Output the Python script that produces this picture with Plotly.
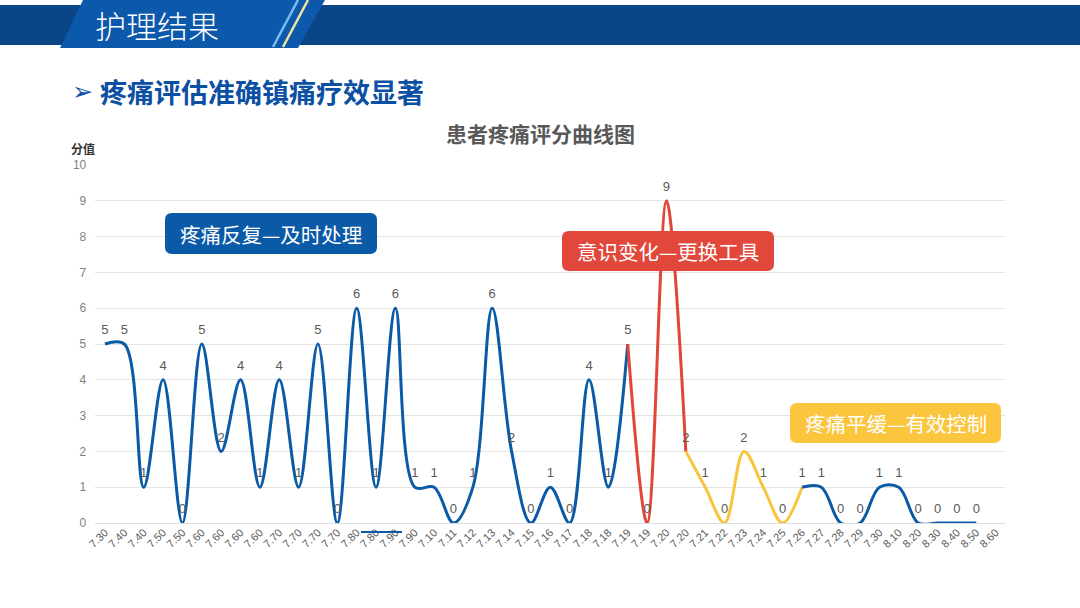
import plotly.graph_objects as go

W, H = 1080, 608

categories = ["7.30", "7.40", "7.40", "7.50", "7.50", "7.60", "7.60", "7.60", "7.60",
              "7.70", "7.70", "7.70", "7.70", "7.80", "7.80", "7.90", "7.90",
              "7.10", "7.11", "7.12", "7.13", "7.14", "7.15", "7.16", "7.17",
              "7.18", "7.18", "7.19", "7.19", "7.20", "7.20", "7.21", "7.22",
              "7.23", "7.24", "7.25", "7.26", "7.27", "7.28", "7.29", "7.30",
              "8.10", "8.20", "8.30", "8.40", "8.50", "8.60"]
scores = [5, 5, 1, 4, 0, 5, 2, 4, 1, 4, 1, 5, 0, 6, 1, 6, 1, 1, 0, 1, 6, 2, 0, 1, 0,
          4, 1, 5, 0, 9, 2, 1, 0, 2, 1, 0, 1, 1, 0, 0, 1, 1, 0, 0, 0, 0, None]

# colour segments (start index, end index inclusive, colour)
segments = [(0, 27, "#0B5AA6"), (27, 30, "#E2463A"), (30, 36, "#F9C53C"), (36, 45, "#0B5AA6")]

y_ticks = list(range(0, 11))

# positions use unique x indices so repeated labels stay separate
xidx = list(range(len(categories)))


def px(x):
    return x / W


def py(y):
    return 1 - y / H


fig = go.Figure()
for s, e, col in segments:
    fig.add_trace(go.Scatter(
        x=xidx[s:e + 1], y=scores[s:e + 1], mode="lines",
        line=dict(color=col, width=3, shape="spline", smoothing=1.0),
        hoverinfo="skip", showlegend=False, cliponaxis=True))

fig.add_trace(go.Scatter(
    x=xidx[:len(scores)], y=scores, mode="markers+text",
    marker=dict(size=9, opacity=0),
    text=[str(v) if v is not None else "" for v in scores],
    textposition="top center",
    textfont=dict(family="Liberation Sans, Arial, sans-serif", size=13, color="#595959"),
    hoverinfo="skip", showlegend=False, cliponaxis=False))

x0p, x1p = 95.3, 1005.3
y0p, y1p = 523, 165

shapes = []
# header
shapes.append(dict(type="rect", xref="paper", yref="paper", x0=0, x1=1,
                   y0=py(45), y1=py(5), fillcolor="#0A4587", line=dict(width=0), layer="below"))


def poly(pts):
    return "M " + " L ".join(f"{px(a):.5f},{py(b):.5f}" for a, b in pts) + " Z"


shapes.append(dict(type="path", xref="paper", yref="paper",
                   path=poly([(60, 48), (83, 0), (325, 0), (298, 48)]),
                   fillcolor="#0C58AB", line=dict(width=0), layer="below"))
shapes.append(dict(type="line", xref="paper", yref="paper",
                   x0=px(298), y0=py(0), x1=px(273), y1=py(47),
                   line=dict(color="#78BDF0", width=2.5)))
shapes.append(dict(type="line", xref="paper", yref="paper",
                   x0=px(308), y0=py(0), x1=px(283), y1=py(47),
                   line=dict(color="#F2E3A0", width=2.5)))
# stray line under axis
shapes.append(dict(type="line", xref="paper", yref="paper",
                   x0=px(361), y0=py(532), x1=px(402), y1=py(532),
                   line=dict(color="#0B5AA6", width=2)))


def rrect(x0, y0, x1, y1, r):
    def P(a, b):
        return f"{px(a):.5f},{py(b):.5f}"
    return (f"M {P(x0 + r, y0)} L {P(x1 - r, y0)} Q {P(x1, y0)} {P(x1, y0 + r)} "
            f"L {P(x1, y1 - r)} Q {P(x1, y1)} {P(x1 - r, y1)} L {P(x0 + r, y1)} "
            f"Q {P(x0, y1)} {P(x0, y1 - r)} L {P(x0, y0 + r)} Q {P(x0, y0)} {P(x0 + r, y0)} Z")


boxes = [
    (165, 213, 377, 254, "#0B5AA8", "疼痛反复—及时处理"),
    (562, 231, 774, 271, "#E2473B", "意识变化—更换工具"),
    (790, 403, 1001, 443, "#FBC53D", "疼痛平缓—有效控制"),
]
annotations = []
for bx0, by0, bx1, by1, col, txt in boxes:
    shapes.append(dict(type="path", xref="paper", yref="paper", path=rrect(bx0, by0, bx1, by1, 7),
                       fillcolor=col, line=dict(width=0), layer="above"))
    annotations.append(dict(x=px((bx0 + bx1) / 2), y=py((by0 + by1) / 2), xref="paper", yref="paper",
                            text=txt, showarrow=False, xanchor="center", yanchor="middle",
                            font=dict(family="Noto Sans CJK SC", size=20.5, color="white")))

annotations += [
    dict(x=px(93), y=py(24), xref="paper", yref="paper", text="护理结果", showarrow=False,
         xanchor="left", yanchor="middle",
         font=dict(family="Noto Sans CJK SC", size=31, color="white", weight=300)),
    dict(x=px(70), y=py(92), xref="paper", yref="paper", text="➢", showarrow=False,
         xanchor="left", yanchor="middle",
         font=dict(family="DejaVu Sans", size=25, color="#0B50A3")),
    dict(x=px(98), y=py(91), xref="paper", yref="paper", text="<b>疼痛评估准确镇痛疗效显著</b>",
         showarrow=False, xanchor="left", yanchor="middle",
         font=dict(family="Noto Sans CJK SC", size=27, color="#0B50A3")),
    dict(x=px(540), y=py(133), xref="paper", yref="paper", text="<b>患者疼痛评分曲线图</b>",
         showarrow=False, xanchor="center", yanchor="middle",
         font=dict(family="Noto Sans CJK SC", size=21, color="#595959")),
    dict(x=px(69), y=py(149), xref="paper", yref="paper", text="<b>分值</b>",
         showarrow=False, xanchor="left", yanchor="middle",
         font=dict(family="Noto Sans CJK SC", size=12, color="#333333")),
]

fig.update_layout(
    width=W, height=H,
    margin=dict(l=0, r=0, t=0, b=0),
    paper_bgcolor="white", plot_bgcolor="white",
    shapes=shapes, annotations=annotations,
    xaxis=dict(domain=[px(x0p), px(x1p)], range=[-0.5, len(categories) - 0.5],
               tickmode="array", tickvals=xidx, ticktext=categories, tickangle=-45,
               tickfont=dict(family="Liberation Sans, Arial, sans-serif", size=11, color="#595959"),
               showgrid=False, zeroline=False, showline=False, ticks="", automargin=False),
    yaxis=dict(domain=[py(y0p), py(y1p)], range=[0, 10], tickvals=y_ticks,
               tickfont=dict(family="Liberation Sans, Arial, sans-serif", size=12, color="#7F7F7F"),
               showgrid=True, gridcolor="#E3E3E3", gridwidth=1, zeroline=True,
               zerolinecolor="#DDDDDD", zerolinewidth=1, showline=False, ticks="",
               ticklabelstandoff=8, automargin=False),
)

fig.write_html("out.html", config={"displayModeBar": False},
               post_script="document.body.style.margin='0';document.body.style.overflow='hidden';")
